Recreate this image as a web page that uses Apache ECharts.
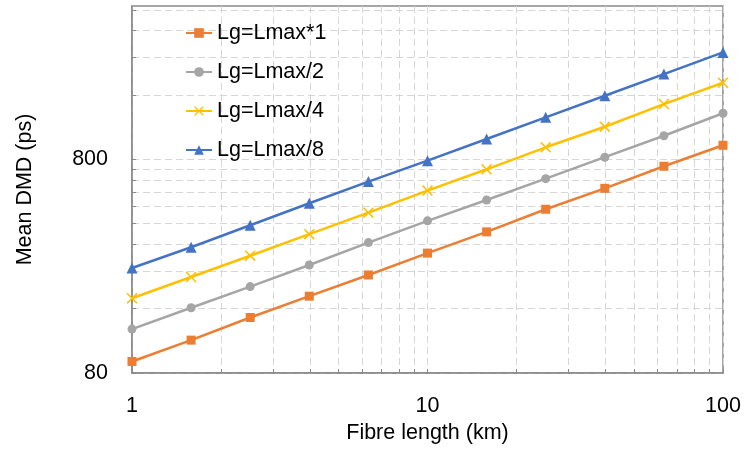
<!DOCTYPE html>
<html>
<head>
<meta charset="utf-8">
<script src="https://cdn.jsdelivr.net/npm/echarts@6/dist/echarts.min.js"></script>
<style>html,body{margin:0;padding:0;background:#fff}#c{width:744px;height:450px}</style>
</head>
<body>
<div id="c"></div>
<script>
var fibreLength = [1, 1.585, 2.512, 3.981, 6.31, 10, 15.85, 25.12, 39.81, 63.1, 100];
var seriesNames = ['Lg=Lmax*1', 'Lg=Lmax/2', 'Lg=Lmax/4', 'Lg=Lmax/8'];
var dmdLmax1 = [90.6, 114, 145.5, 183, 230, 291, 366, 467, 585, 742, 930];
var dmdLmax2 = [128.4, 161.5, 203, 256, 326, 412, 516, 649, 818, 1031, 1313];
var dmdLmax4 = [179, 225, 283, 357, 450, 571, 718, 910, 1136, 1450, 1824];
var dmdLmax8 = [248, 310, 393, 498, 629, 788, 995, 1257, 1586, 2003, 2530];
var xTickValues = [1,2,3,4,5,6,7,8,9,10,20,30,40,50,60,70,80,90,100];
var xLabelValues = [1, 10, 100];
var yTickValues = [80,160,240,320,400,480,560,640,720,800,1600,2400,3200,4000];
var yLabelValues = [80, 800];

var colors = ['#ED7D31', '#A5A5A5', '#FFC000', '#4472C4'];
var xSymbol = 'path://M0,1 L1,0 L5,4 L9,0 L10,1 L6,5 L10,9 L9,10 L5,6 L1,10 L0,9 L4,5 Z';
var symbols = ['rect', 'circle', xSymbol, 'triangle'];
var symbolSizes = [9, 9, 11, 11];
var allData = [dmdLmax1, dmdLmax2, dmdLmax4, dmdLmax8];

function pairs(ys) { return ys.map(function (y, i) { return [fibreLength[i], y]; }); }

var font = 'Liberation Sans';
var fs = 21.5;
var chart = echarts.init(document.getElementById('c'), null, {renderer: 'canvas'});
chart.setOption({
  animation: false,
  color: colors,
  textStyle: {fontFamily: font},
  grid: {left: 132, right: 21, top: 6, bottom: 77, show: true, borderColor: '#898989', borderWidth: 1.5, outerBoundsMode: 'none'},
  legend: {
    orient: 'vertical', left: 185, top: 22, padding: 0, itemWidth: 26, itemHeight: 12, itemGap: 17,
    textStyle: {fontSize: fs, color: '#000', fontFamily: font},
    data: seriesNames
  },
  xAxis: {
    type: 'log', logBase: 10, min: 1, max: 100,
    name: 'Fibre length (km)', nameLocation: 'middle', nameGap: 49,
    nameTextStyle: {fontSize: fs, color: '#000', fontFamily: font},
    axisLine: {show: true, lineStyle: {color: '#898989', width: 1.5}},
    axisTick: {show: true, inside: true, length: 4, customValues: xTickValues, lineStyle: {color: '#898989'}},
    axisLabel: {customValues: xLabelValues, fontSize: fs, color: '#000', margin: 22, fontFamily: font},
    splitLine: {show: true, lineStyle: {color: '#d6d6d6', type: [7, 4], width: 1}},
    minorTick: {show: false}, minorSplitLine: {show: false}
  },
  yAxis: {
    type: 'log', logBase: 10, min: 80, max: 4170,
    name: 'Mean DMD (ps)', nameLocation: 'middle', nameGap: 96, nameRotate: 90,
    nameTextStyle: {fontSize: fs, color: '#000', fontFamily: font},
    axisLine: {show: true, lineStyle: {color: '#898989', width: 1.5}},
    axisTick: {show: true, inside: true, length: 4, customValues: yTickValues, lineStyle: {color: '#898989'}},
    axisLabel: {customValues: yLabelValues, fontSize: fs, color: '#000', margin: 24, fontFamily: font},
    splitLine: {show: true, lineStyle: {color: '#d6d6d6', type: [7, 4], width: 1}}
  },
  series: seriesNames.map(function (n, i) {
    return {
      name: n, type: 'line', data: pairs(allData[i]),
      symbol: symbols[i], symbolSize: symbolSizes[i], showAllSymbol: true,
      lineStyle: {width: 2.5, color: colors[i]},
      itemStyle: {color: colors[i], borderWidth: 0}
    };
  })
});
</script>
</body>
</html>
